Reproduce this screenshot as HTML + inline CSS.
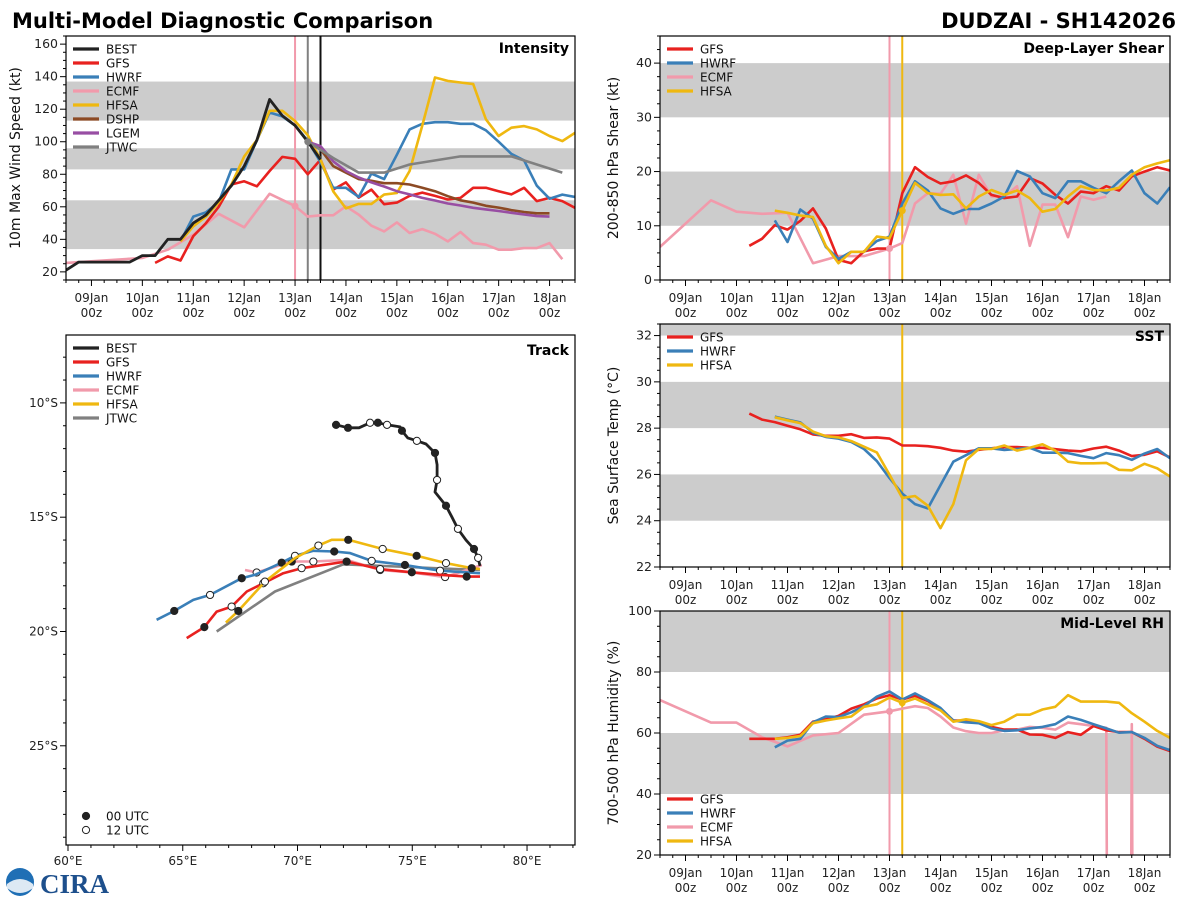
<!DOCTYPE html>
<html><head><meta charset="utf-8">
<style>
html,body{margin:0;padding:0;background:#fff;width:1200px;height:900px;overflow:hidden;}
svg{display:block;font-family:"DejaVu Sans","Liberation Sans",sans-serif;}
</style></head>
<body>
<svg id="chart" xmlns="http://www.w3.org/2000/svg" width="1200" height="900" viewBox="0 0 1200 900">
<text x="12" y="28" font-size="21" font-weight="bold" fill="#000">Multi-Model Diagnostic Comparison</text>
<text x="1176" y="28" font-size="21" font-weight="bold" fill="#000" text-anchor="end">DUDZAI - SH142026</text>
<g>
<circle cx="20" cy="882" r="14" fill="#1f6fb5"/>
<path d="M7 884 Q20 874 33 884 L33 888 Q20 898 7 888 Z" fill="#fff" opacity="0.85"/>
<text x="40" y="893" font-size="27" font-weight="bold" fill="#1d4f8c" font-family="Liberation Serif,serif">CIRA</text>
</g>
</svg>
<script>
// ---------- DATA ----------
const dayLabels = ["09Jan","10Jan","11Jan","12Jan","13Jan","14Jan","15Jan","16Jan","17Jan","18Jan"];
const bestIntStart = -0.5;
const bestInt = [21,26,26,26,26,26,30,30,40,40,50,55,64,73,85,101,126,116,110,100,89];
const gfsIntStart = 1.25;
const gfsInt = [25.5,29.5,27,42,50,60,73.7,75.7,72.6,82,90.7,89.5,80,89,70.6,75,65.6,70.6,61.6,62.6,66.7,68.7,66.7,64.5,65.5,71.7,71.7,69.6,67.6,71.7,63.5,65.5,63.5,59.4];
const hwrfIntStart = 1.75;
const hwrfInt = [38.7,54,56.6,62.7,83,83,101,118,115.6,110,100.6,87.5,71.7,71.7,66,80.5,77,92,107.6,111,112,112,111,111,107,100,92.5,88.5,73,65,67.5,66];
const ecmfIntTimes = [-0.5,1.0,1.5,2.0,2.5,3.0,3.5,4.0,4.25,4.5,4.75,5.0,5.25,5.5,5.75,6.0,6.25,6.5,6.75,7.0,7.25,7.5,7.75,8.0,8.25,8.5,8.75,9.0,9.25];
const ecmfInt = [25.5,28.5,33.6,42.8,55.7,47.4,68,60.4,54,54.8,54.8,60.3,55.2,48.4,44.9,50.4,43.9,46.3,43.4,38.7,44.5,37.7,36.7,33.6,33.6,34.6,34.6,37.7,27.8];
const hfsaIntStart = 1.75;
const hfsaInt = [38.7,48,54,62.7,73.7,91,101,119,119,112.7,104,89,69.5,59,61.8,61.8,67.5,68.5,82,110,139.5,137.4,136.4,135.4,113.8,103.5,108.6,109.6,107.6,103.5,100.4,105.5];
const dshpIntStart = 4.25;
const dshpInt = [100,95.3,85,81,77,76,74.5,74.5,73.7,71.7,69.6,66.5,64,62.6,60.6,59.5,58,56.8,56,56];
const lgemIntStart = 4.25;
const lgemInt = [100,97.3,88,82,78,75,72.5,69.6,67.6,65.5,63.9,62,60.8,59.4,58.4,57.4,56.3,55.3,54.3,54];
const jtwcIntTimes = [4.25,4.75,5.25,5.75,6.25,7.25,8.25,9.25];
const jtwcInt = [100,90,81,81,86,91,91,81];
const gfsShearStart = 1.25;
const gfsShear = [6.3,7.6,10.1,9.3,10.9,13.2,9.5,3.7,3.1,5.3,5.8,5.8,16,20.8,19,17.8,18.2,19.3,17.9,15.7,15.1,15.4,18.8,17.8,15.7,14.1,16.3,16,17.3,16.5,19.1,20,20.8,20.2];
const hwrfShearStart = 1.75;
const hwrfShear = [11,7,13,11.3,6.1,3.9,5.2,5.2,7.2,8,14.1,18.2,16.5,13.2,12.2,13.1,13.1,14.1,15.4,20.1,19.1,16,15.1,18.2,18.2,17,16,18.2,20.2,16,14.1,17.1];
const ecmfShearTimes = [-0.5,0.5,1.0,1.5,2.0,2.5,3.0,3.5,4.0,4.25,4.5,4.75,5.0,5.25,5.5,5.75,6.0,6.25,6.5,6.75,7.0,7.25,7.5,7.75,8.0,8.25];
const ecmfShear = [6.1,14.7,12.6,12.2,12.4,3.1,4.4,4.4,5.8,6.8,14.1,16,15.9,19.4,10.4,19.4,15.4,15.4,17.3,6.3,13.9,13.9,7.9,15.4,14.8,15.4];
const hfsaShearStart = 1.75;
const hfsaShear = [12.8,12.4,11.9,11.6,6.3,3.1,5.2,5.2,8,7.7,12.8,17.9,16,15.7,15.8,13.2,15.4,16.6,15.7,16.5,15.1,12.6,13.1,15.4,17.3,16.6,16.5,17,19.4,20.8,21.5,22.1];
const gfsSstStart = 1.25;
const gfsSst = [28.63,28.37,28.26,28.1,27.95,27.73,27.67,27.67,27.74,27.58,27.6,27.55,27.25,27.25,27.22,27.15,27.03,26.98,27.06,27.13,27.18,27.18,27.15,27.15,27.09,27.03,27.0,27.12,27.2,27.03,26.79,26.85,27.0,26.73];
const hwrfSstStart = 1.75;
const hwrfSst = [28.5,28.37,28.25,27.8,27.62,27.55,27.4,27.1,26.58,25.84,25.17,24.72,24.53,25.54,26.55,26.83,27.13,27.13,27.06,27.1,27.15,26.94,26.94,26.92,26.8,26.7,26.92,26.83,26.63,26.9,27.1,26.7];
const hfsaSstStart = 1.75;
const hfsaSst = [28.47,28.34,28.22,27.85,27.65,27.6,27.44,27.2,26.95,25.99,24.98,25.07,24.65,23.68,24.72,26.61,27.1,27.1,27.25,27.03,27.15,27.3,27.03,26.55,26.48,26.48,26.5,26.2,26.18,26.46,26.26,25.91];
const gfsRhStart = 1.25;
const gfsRh = [58.1,58.1,58.1,58.6,59.4,63.7,64.5,65.6,68,69.4,71.3,72.4,71,72.2,70.5,67.9,64.1,64.1,63.4,62,61.1,61.1,59.5,59.4,58.4,60.3,59.4,62.3,60.9,60.3,60.3,58.1,55.5,54.1];
const hwrfRhStart = 1.75;
const hwrfRh = [55.3,57.5,58.1,63.5,65.4,65.2,66.8,68.8,71.9,73.6,71,73,70.8,68.2,64.1,63.5,63.2,61.5,60.7,60.9,61.5,62,62.9,65.4,64.3,62.9,61.5,60.1,60.3,58.4,55.8,54.4];
const ecmfRhTimes = [-0.5,0.5,1.0,1.5,2.0,2.5,3.0,3.5,4.0,4.25,4.5,4.75,5.0,5.25,5.5,5.75,6.0,6.25,6.5,6.75,7.0,7.25,7.5,7.75,8.0,8.25,8.5,8.75,9.0];
const ecmfRh = [70.8,63.4,63.4,58.6,55.6,59.2,60,66,67.1,68,68.8,68.2,65.4,61.8,60.6,60,60,60.9,61.1,62,61.7,61.1,63.4,62.9,62.3,61.7,-999,62.9,-999];
const hfsaRhStart = 1.75;
const hfsaRh = [58.1,58.4,59,63.2,64.1,64.8,65.4,68.6,69.4,71.6,69.9,71.3,69.4,67.4,63.7,64.5,63.9,62.6,63.7,66,66,67.7,68.6,72.4,70.3,70.3,70.3,69.9,66.5,63.7,60.7,58.4];
const bestLon = [71.68,72.2,72.68,73.16,73.5,73.9,74.47,74.55,74.8,75.2,75.6,75.99,76.08,76.08,75.99,76.47,76.73,76.99,77.34,77.69,77.87,77.95];
const bestLat = [10.96,11.09,11.09,10.87,10.87,10.96,11.05,11.22,11.53,11.66,11.8,12.19,12.71,13.37,13.9,14.5,15.0,15.51,16.0,16.39,16.78,17.13];
const bestMk  = [1,1,0,2,1,2,0,1,0,2,0,1,0,2,0,1,0,2,0,1,2,0];
const gfsLon = [77.95,77.37,76.21,74.98,73.6,72.14,70.18,69.38,68.51,67.79,67.13,66.48,65.94,65.17];
const gfsLat = [17.6,17.6,17.52,17.41,17.27,16.94,17.23,17.45,17.89,18.25,18.91,19.13,19.81,20.29];
const gfsMk  = [0,1,0,1,2,1,2,0,2,0,2,0,1,0];
const hwrfLon = [77.95,76.21,74.68,73.23,72.29,71.6,70.69,69.89,69.31,68.15,67.57,66.19,65.46,64.63,63.86];
const hwrfLat = [17.45,17.34,17.09,16.91,16.57,16.5,16.47,16.69,16.99,17.52,17.67,18.4,18.62,19.1,19.49];
const hwrfMk  = [0,2,1,2,0,1,0,2,1,0,1,2,0,1,0];
const ecmfLon = [78.03,76.43,74.98,73.6,72.14,70.69,69.75,68.22,67.71];
const ecmfLat = [17.09,17.62,17.42,17.31,16.87,16.94,16.94,17.42,17.31];
const ecmfMk  = [0,2,0,2,0,2,1,2,0];
const hfsaLon = [77.95,77.59,76.47,75.19,73.71,72.21,71.49,70.91,69.89,68.58,67.42,66.88];
const hfsaLat = [17.27,17.23,17.01,16.69,16.39,15.99,15.99,16.24,16.79,17.82,19.1,19.61];
const hfsaMk  = [0,1,2,1,2,1,0,2,0,2,1,0];
const jtwcLon = [77.95,72.0,69.02,66.48];
const jtwcLat = [17.31,17.06,18.25,20.0];

// ---------- RENDER ----------
const NS = "http://www.w3.org/2000/svg";
const svg = document.getElementById("chart");
const C = {best:"#222222",gfs:"#e8211f",hwrf:"#3a7fb8",ecmf:"#f19aab",hfsa:"#efb810",dshp:"#8c4a24",lgem:"#984ea3",jtwc:"#808080"};
function el(tag, attrs, parent){const e=document.createElementNS(NS,tag);for(const k in attrs)e.setAttribute(k,attrs[k]);(parent||svg).appendChild(e);return e;}
function seqTimes(start,n){const t=[];for(let i=0;i<n;i++)t.push(start+i*0.25);return t;}

let clipId=0;
function makePanel(name,L,R,T,B,y0,y1){
  const g=el("g",{});
  
  
  const id="clip"+(clipId++);
  const cp=el("clipPath",{id:id},g);el("rect",{x:L,y:T,width:R-L,height:B-T},cp);
  const p={g,L,R,T,B,y0,y1,clip:"url(#"+id+")"};
  p.x=d=>L+(d+0.5)*(R-L)/10;
  p.y=v=>B-(v-y0)*(B-T)/(y1-y0);
  return p;
}
function band(p,a,b){const r=el("rect",{x:p.L,y:p.y(b),width:p.R-p.L,height:p.y(a)-p.y(b),fill:"#cccccc","clip-path":p.clip},p.g);
  
  }
function series(p,times,vals,color,name,w){
  const d=times.map((t,i)=>(i?"L":"M")+p.x(t).toFixed(1)+" "+p.y(vals[i]).toFixed(1)).join(" ");
  const path=el("path",{d,fill:"none",stroke:color,"stroke-width":w||2.6,"stroke-linejoin":"round","clip-path":p.clip},p.g);
  
  
}
function vline(p,day,color,name){
  const l=el("line",{x1:p.x(day),x2:p.x(day),y1:p.T,y2:p.B,stroke:color,"stroke-width":2},p.g);
  
  
}
function dot(p,day,v,color){const c=el("circle",{cx:p.x(day),cy:p.y(v),r:3.5,fill:color},p.g);
  
  }
function frame(p){el("rect",{x:p.L,y:p.T,width:p.R-p.L,height:p.B-p.T,fill:"none",stroke:"#000","stroke-width":1.2},p.g);}
function timeAxis(p,labels){
  for(let d=-0.5;d<=9.5+1e-6;d+=0.25){
    const major=Math.abs(d-Math.round(d))<1e-6;
    el("line",{x1:p.x(d),x2:p.x(d),y1:p.B,y2:p.B+(major?6:3),stroke:"#000","stroke-width":1},p.g);
  }
  if(!labels)return;
  dayLabels.forEach((s,i)=>{
    const t1=el("text",{x:p.x(i),y:p.B+22,"font-size":12,"text-anchor":"middle",fill:"#222"},p.g);t1.textContent=s;
    
    
    const t2=el("text",{x:p.x(i),y:p.B+37,"font-size":12,"text-anchor":"middle",fill:"#222"},p.g);t2.textContent="00z";
    
    
  });
}
function yAxis(p,majors,minorStep,title,titleX){
  for(let v=p.y0;v<=p.y1+1e-6;v+=minorStep){
    const vv=Math.round(v*1000)/1000;
    const isMajor=majors.some(m=>Math.abs(m-vv)<1e-6);
    el("line",{x1:p.L-(isMajor?6:3),x2:p.L,y1:p.y(vv),y2:p.y(vv),stroke:"#000","stroke-width":1},p.g);
  }
  majors.forEach(m=>{const t=el("text",{x:p.L-8,y:p.y(m)+4,"font-size":12.5,"text-anchor":"end",fill:"#222"},p.g);t.textContent=m;
    
    });
  const cy=(p.T+p.B)/2;
  const t=el("text",{x:titleX,y:cy,"font-size":14,"text-anchor":"middle",fill:"#111",transform:`rotate(-90 ${titleX} ${cy})`},p.g);
  t.textContent=title;
  
  
}
function panelLabel(p,s){const t=el("text",{x:p.R-6,y:p.T+17,"font-size":14,"font-weight":"bold","text-anchor":"end",fill:"#000"},p.g);t.textContent=s;
  
  }
function legend(p,items,x,y){
  items.forEach((it,i)=>{
    const yy=y+i*14;
    const g=el("g",{},p.g);
    
    
    el("line",{x1:x,x2:x+26,y1:yy,y2:yy,stroke:it[1],"stroke-width":3.2},g);
    const t=el("text",{x:x+33,y:yy+4.5,"font-size":12,fill:"#111"},g);t.textContent=it[0];
  });
}

const pI=makePanel("intensity",66,575,36,280,15,165);
band(pI,34,64);band(pI,83,96);band(pI,113,137);
vline(pI,4.0,C.ecmf,"ecmf-init-line");vline(pI,4.25,C.jtwc,"jtwc-init-line");vline(pI,4.5,"#111","best-latest-line");
series(pI,ecmfIntTimes,ecmfInt,C.ecmf,"ecmf-intensity-line");
series(pI,seqTimes(gfsIntStart,gfsInt.length),gfsInt,C.gfs,"gfs-intensity-line");
series(pI,seqTimes(hwrfIntStart,hwrfInt.length),hwrfInt,C.hwrf,"hwrf-intensity-line");
series(pI,seqTimes(hfsaIntStart,hfsaInt.length),hfsaInt,C.hfsa,"hfsa-intensity-line");
series(pI,seqTimes(dshpIntStart,dshpInt.length),dshpInt,C.dshp,"dshp-intensity-line");
series(pI,seqTimes(lgemIntStart,lgemInt.length),lgemInt,C.lgem,"lgem-intensity-line");
series(pI,jtwcIntTimes,jtwcInt,C.jtwc,"jtwc-intensity-line");
series(pI,seqTimes(bestIntStart,bestInt.length),bestInt,C.best,"best-intensity-line",2.8);
dot(pI,4.0,ecmfInt[7],C.ecmf);dot(pI,4.25,jtwcInt[0],C.jtwc);
frame(pI);timeAxis(pI,true);
yAxis(pI,[20,40,60,80,100,120,140,160],5,"10m Max Wind Speed (kt)",20);
panelLabel(pI,"Intensity");
legend(pI,[["BEST",C.best],["GFS",C.gfs],["HWRF",C.hwrf],["ECMF",C.ecmf],["HFSA",C.hfsa],["DSHP",C.dshp],["LGEM",C.lgem],["JTWC",C.jtwc]],73,49);

const pS=makePanel("shear",660,1170,36,280,0,45);
band(pS,10,20);band(pS,30,40);
vline(pS,4.0,C.ecmf,"ecmf-init-line");vline(pS,4.25,C.hfsa,"hfsa-init-line");
series(pS,ecmfShearTimes,ecmfShear,C.ecmf,"ecmf-shear-line");
series(pS,seqTimes(gfsShearStart,gfsShear.length),gfsShear,C.gfs,"gfs-shear-line");
series(pS,seqTimes(hwrfShearStart,hwrfShear.length),hwrfShear,C.hwrf,"hwrf-shear-line");
series(pS,seqTimes(hfsaShearStart,hfsaShear.length),hfsaShear,C.hfsa,"hfsa-shear-line");
dot(pS,4.0,ecmfShear[8],C.ecmf);dot(pS,4.25,hfsaShear[10],C.hfsa);
frame(pS);timeAxis(pS,true);
yAxis(pS,[0,10,20,30,40],2.5,"200-850 hPa Shear (kt)",618);
panelLabel(pS,"Deep-Layer Shear");
legend(pS,[["GFS",C.gfs],["HWRF",C.hwrf],["ECMF",C.ecmf],["HFSA",C.hfsa]],667,49);

const pT=makePanel("sst",660,1170,324,567,22,32.5);
band(pT,24,26);band(pT,28,30);band(pT,32,34);
vline(pT,4.25,C.hfsa,"hfsa-init-line");
series(pT,seqTimes(gfsSstStart,gfsSst.length),gfsSst,C.gfs,"gfs-sst-line");
series(pT,seqTimes(hwrfSstStart,hwrfSst.length),hwrfSst,C.hwrf,"hwrf-sst-line");
series(pT,seqTimes(hfsaSstStart,hfsaSst.length),hfsaSst,C.hfsa,"hfsa-sst-line");
frame(pT);timeAxis(pT,true);
yAxis(pT,[22,24,26,28,30,32],0.5,"Sea Surface Temp (°C)",618);
panelLabel(pT,"SST");
legend(pT,[["GFS",C.gfs],["HWRF",C.hwrf],["HFSA",C.hfsa]],667,337);

const pR=makePanel("rh",660,1170,611,855,20,100);
band(pR,40,60);band(pR,80,100);
vline(pR,4.0,C.ecmf,"ecmf-init-line");vline(pR,4.25,C.hfsa,"hfsa-init-line");
series(pR,ecmfRhTimes,ecmfRh,C.ecmf,"ecmf-rh-line");
series(pR,seqTimes(gfsRhStart,gfsRh.length),gfsRh,C.gfs,"gfs-rh-line");
series(pR,seqTimes(hwrfRhStart,hwrfRh.length),hwrfRh,C.hwrf,"hwrf-rh-line");
series(pR,seqTimes(hfsaRhStart,hfsaRh.length),hfsaRh,C.hfsa,"hfsa-rh-line");
dot(pR,4.0,ecmfRh[8],C.ecmf);dot(pR,4.25,hfsaRh[10],C.hfsa);
frame(pR);timeAxis(pR,true);
yAxis(pR,[20,40,60,80,100],5,"700-500 hPa Humidity (%)",618);
panelLabel(pR,"Mid-Level RH");
legend(pR,[["GFS",C.gfs],["HWRF",C.hwrf],["ECMF",C.ecmf],["HFSA",C.hfsa]],667,799);

const TL=66,TR=575,TT=335,TB=845;
const lonMin=59.913,lonMax=82.09,latMin=7.03,latMax=29.34;
const tx=lon=>TL+(lon-lonMin)*(TR-TL)/(lonMax-lonMin);
const ty=lat=>TT+(lat-latMin)*(TB-TT)/(latMax-latMin);
const gT=el("g",{});


const cpT=el("clipPath",{id:"clipTrack"},gT);el("rect",{x:TL,y:TT,width:TR-TL,height:TB-TT},cpT);
function track(lons,lats,mk,color,name,w){
  const d=lons.map((v,i)=>(i?"L":"M")+tx(v).toFixed(1)+" "+ty(lats[i]).toFixed(1)).join(" ");
  const p=el("path",{d,fill:"none",stroke:color,"stroke-width":w||2.6,"stroke-linejoin":"round","clip-path":"url(#clipTrack)"},gT);
  
  
  if(mk)mk.forEach((m,i)=>{if(!m)return;
    const c=el("circle",{cx:tx(lons[i]),cy:ty(lats[i]),r:3.6,fill:m===1?"#222":"#fff",stroke:"#222","stroke-width":1},gT);
    
    
  });
}
track(jtwcLon,jtwcLat,null,C.jtwc,"jtwc-track");
track(ecmfLon,ecmfLat,ecmfMk,C.ecmf,"ecmf-track");
track(hwrfLon,hwrfLat,hwrfMk,C.hwrf,"hwrf-track");
track(gfsLon,gfsLat,gfsMk,C.gfs,"gfs-track");
track(hfsaLon,hfsaLat,hfsaMk,C.hfsa,"hfsa-track");
track(bestLon,bestLat,bestMk,C.best,"best-track",2.8);
el("rect",{x:TL,y:TT,width:TR-TL,height:TB-TT,fill:"none",stroke:"#000","stroke-width":1.2},gT);
for(let lon=60;lon<=82;lon++){const maj=lon%5===0;el("line",{x1:tx(lon),x2:tx(lon),y1:TB,y2:TB+(maj?6:3),stroke:"#000"},gT);
  if(maj){const t=el("text",{x:tx(lon),y:TB+20,"font-size":12,"text-anchor":"middle",fill:"#222"},gT);t.textContent=lon+"°E";
    
    }}
for(let lat=8;lat<=29;lat++){const maj=lat%5===0;el("line",{x1:TL-(maj?6:3),x2:TL,y1:ty(lat),y2:ty(lat),stroke:"#000"},gT);
  if(maj){const t=el("text",{x:TL-8,y:ty(lat)+4,"font-size":12,"text-anchor":"end",fill:"#222"},gT);t.textContent=lat+"°S";
    
    }}
const tl=el("text",{x:TR-6,y:TT+20,"font-size":14,"font-weight":"bold","text-anchor":"end",fill:"#000"},gT);tl.textContent="Track";


[["BEST",C.best],["GFS",C.gfs],["HWRF",C.hwrf],["ECMF",C.ecmf],["HFSA",C.hfsa],["JTWC",C.jtwc]].forEach((it,i)=>{
  const yy=348+i*14;const g=el("g",{},gT);
  
  
  el("line",{x1:73,x2:99,y1:yy,y2:yy,stroke:it[1],"stroke-width":3.2},g);
  const t=el("text",{x:106,y:yy+4.5,"font-size":12,fill:"#111"},g);t.textContent=it[0];
});
[["00 UTC","#222"],["12 UTC","#fff"]].forEach((it,i)=>{
  const yy=816+i*14;const g=el("g",{},gT);
  
  
  el("circle",{cx:86,cy:yy,r:3.6,fill:it[1],stroke:"#222","stroke-width":1},g);
  const t=el("text",{x:106,y:yy+4.5,"font-size":12,fill:"#111"},g);t.textContent=it[0];
});
</script>
</body></html>
